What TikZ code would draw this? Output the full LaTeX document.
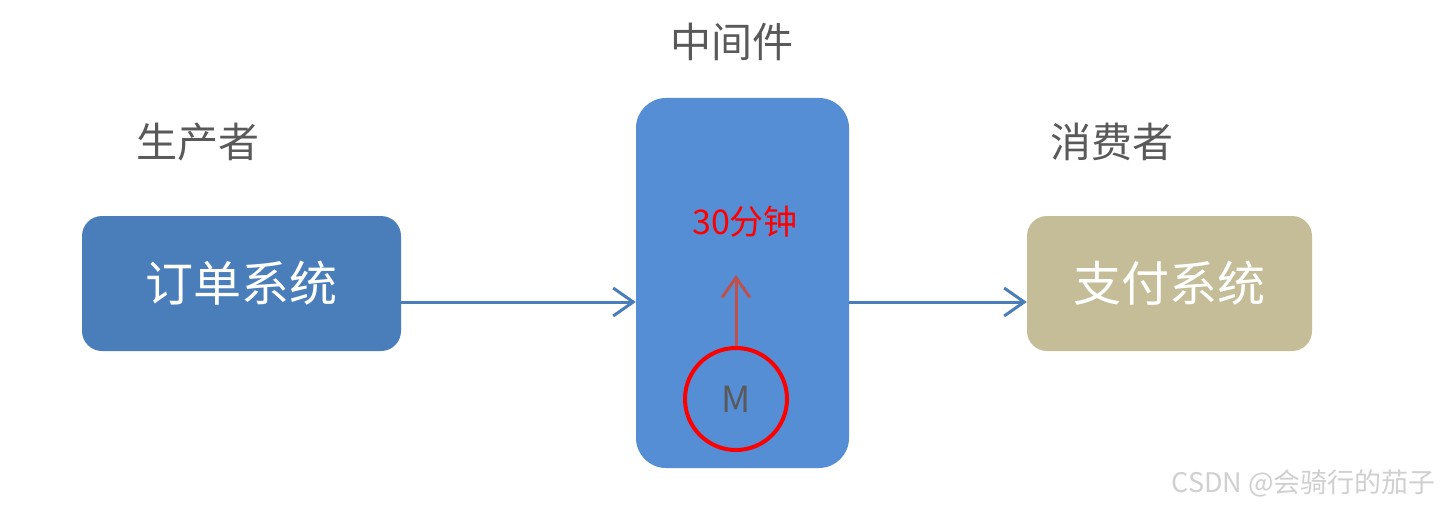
\documentclass[tikz,border=0pt]{standalone}
\usepackage{fontspec}
\setmainfont{Noto Sans CJK SC}
\usetikzlibrary{arrows.meta}
\definecolor{boxblue}{HTML}{4A7EBB}
\definecolor{midblue}{HTML}{558ED5}
\definecolor{khaki}{HTML}{C4BD97}
\definecolor{txtgray}{HTML}{595959}
\definecolor{arrred}{HTML}{C0504D}
\definecolor{wmgray}{HTML}{D0D0D0}
\tikzset{
  sysbox/.style={rounded corners=20pt, inner sep=0pt, text=white, font=\fontsize{48}{52}\selectfont},
  label/.style={text=txtgray, font=\fontsize{41}{45}\selectfont, inner sep=0pt},
  flow/.style={draw=boxblue, line width=3pt, -{Straight Barb[length=20pt,width=28pt,line width=3pt]}},
}
\begin{document}
\begin{tikzpicture}[x=1pt,y=-1pt]
\useasboundingbox (0,0) rectangle (1440,508);
\fill[white] (0,0) rectangle (1440,508);
\node[sysbox, fill=boxblue, minimum width=319pt, minimum height=135pt] (order) at (241.5,283.5) {订单系统};
\node[sysbox, fill=khaki, minimum width=285pt, minimum height=135pt] (pay) at (1169.5,283.5) {支付系统};
\node[fill=midblue, rounded corners=30pt, minimum width=213pt, minimum height=370pt, inner sep=0pt] (mid) at (742.5,283) {};
\node[label] (lprod) at (198,142) {生产者};
\node[label] (lcons) at (1112,142) {消费者};
\node[label] (lmid) at (732,42) {中间件};
\node[text=red, font=\fontsize{34}{38}\selectfont, inner sep=0pt] (t30) at (745,222) {30分钟};
\node[circle, draw=red, line width=4pt, minimum size=102pt, inner sep=0pt, text=txtgray, font=\fontsize{36}{40}\selectfont] (m) at (736,399) {M};
\coordinate (rtip) at (736,275);
\draw[draw=arrred, line width=3pt, -{Straight Barb[length=20pt,width=28pt,line width=3pt]}] (m.north) -- (rtip);
\draw[flow] (order.east |- 0,302) -- (mid.west |- 0,302);
\draw[flow] (mid.east |- 0,302) -- (pay.west |- 0,302);
\node[text=wmgray, font=\fontsize{27}{31}\selectfont, inner sep=0pt, anchor=east] (wm) at (1436,483) {CSDN @会骑行的茄子};
\end{tikzpicture}
\end{document}
